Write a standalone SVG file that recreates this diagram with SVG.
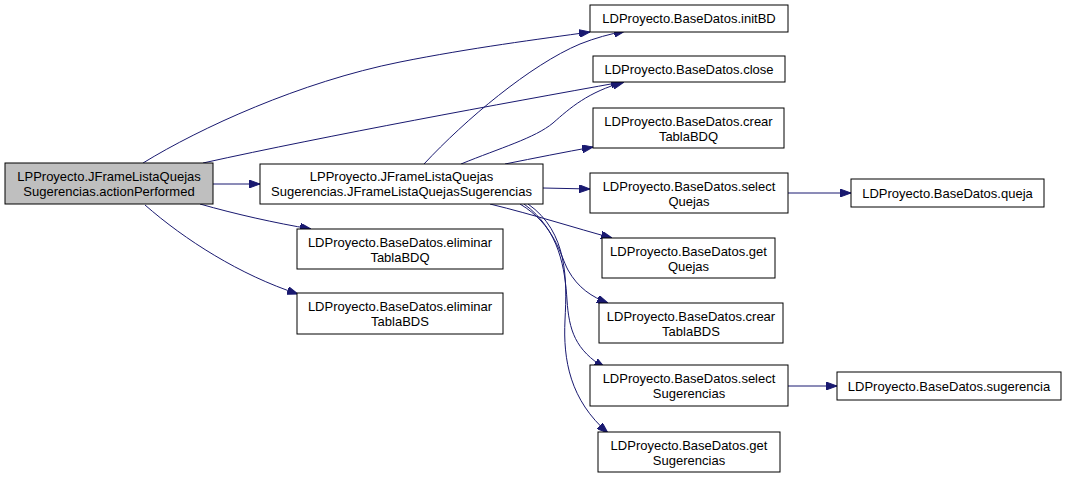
<svg xmlns="http://www.w3.org/2000/svg" width="1067" height="481" viewBox="0 0 1067 481">
<style>
.n rect{fill:#ffffff;stroke:#000000;stroke-width:1}
.n.root rect{fill:#bfbfbf}
.n text{font-family:"Liberation Sans",Arial,sans-serif;font-size:13px;fill:#000000;text-anchor:middle}
.e path{fill:none;stroke:#191970;stroke-width:1}
</style>
<defs>
<marker id="ah" viewBox="0 0 11 8" refX="11" refY="4" markerWidth="11" markerHeight="8" markerUnits="userSpaceOnUse" orient="auto">
<path d="M0,0 L11,4 L0,8 z" fill="#191970" stroke="#191970"/>
</marker>
</defs>
<rect width="1067" height="481" fill="#ffffff"/>
<g class="e" id="edges">
<path marker-end="url(#ah)" d="M213,184 L260,184"/>
<path marker-end="url(#ah)" d="M143,163 C200,128 300,82 400,62 C470,48 540,39 590,32"/>
<path marker-end="url(#ah)" d="M203,163 C330,135 500,104 622,82"/>
<path marker-end="url(#ah)" d="M200,204 C235,214 275,223 311,229"/>
<path marker-end="url(#ah)" d="M145,205 C185,240 240,275 298,294"/>
<path marker-end="url(#ah)" d="M424,164 C465,120 530,65 580,44 C595,38 610,34 625,31"/>
<path marker-end="url(#ah)" d="M461,164 C500,148 535,138 553,123 C570,108 588,92 624,82"/>
<path marker-end="url(#ah)" d="M505,164 C535,158 565,152 593,147"/>
<path marker-end="url(#ah)" d="M543,188 L590,189"/>
<path marker-end="url(#ah)" d="M490,204 C535,215 575,228 612,238"/>
<path marker-end="url(#ah)" d="M520,204 C555,225 560,255 568,270 C578,288 592,297 608,303"/>
<path marker-end="url(#ah)" d="M524,204 C560,230 565,270 567,300 C569,330 575,350 605,368"/>
<path marker-end="url(#ah)" d="M528,204 C568,232 567,280 565,320 C563,360 570,400 608,433"/>
<path marker-end="url(#ah)" d="M788,193 L851,193"/>
<path marker-end="url(#ah)" d="M788,386 L837,386"/>
</g>
<g class="n root" id="node-actionPerformed">
<rect x="5" y="163" width="208" height="41"/>
<text x="109" y="181">LPProyecto.JFrameListaQuejas</text>
<text x="109" y="196">Sugerencias.actionPerformed</text>
</g>
<g class="n" id="node-constructor">
<rect x="260" y="164" width="283" height="40"/>
<text x="401.5" y="181">LPProyecto.JFrameListaQuejas</text>
<text x="401.5" y="196">Sugerencias.JFrameListaQuejasSugerencias</text>
</g>
<g class="n" id="node-initBD">
<rect x="590" y="5" width="198" height="27"/>
<text x="689" y="23">LDProyecto.BaseDatos.initBD</text>
</g>
<g class="n" id="node-close">
<rect x="593" y="56" width="192" height="26"/>
<text x="689" y="73.5">LDProyecto.BaseDatos.close</text>
</g>
<g class="n" id="node-crearTablaBDQ">
<rect x="593" y="108" width="191" height="40"/>
<text x="688.5" y="125.5">LDProyecto.BaseDatos.crear</text>
<text x="688.5" y="140.5">TablaBDQ</text>
</g>
<g class="n" id="node-selectQuejas">
<rect x="590" y="173" width="198" height="40"/>
<text x="689" y="190.5">LDProyecto.BaseDatos.select</text>
<text x="689" y="205.5">Quejas</text>
</g>
<g class="n" id="node-getQuejas">
<rect x="602" y="238" width="173" height="40"/>
<text x="688.5" y="255.5">LDProyecto.BaseDatos.get</text>
<text x="688.5" y="270.5">Quejas</text>
</g>
<g class="n" id="node-crearTablaBDS">
<rect x="599" y="303" width="184" height="40"/>
<text x="691" y="320.5">LDProyecto.BaseDatos.crear</text>
<text x="691" y="335.5">TablaBDS</text>
</g>
<g class="n" id="node-selectSugerencias">
<rect x="590" y="365" width="198" height="41"/>
<text x="689" y="383">LDProyecto.BaseDatos.select</text>
<text x="689" y="398">Sugerencias</text>
</g>
<g class="n" id="node-getSugerencias">
<rect x="598" y="432" width="182" height="40"/>
<text x="689" y="449.5">LDProyecto.BaseDatos.get</text>
<text x="689" y="464.5">Sugerencias</text>
</g>
<g class="n" id="node-queja">
<rect x="851" y="179" width="193" height="28"/>
<text x="947.5" y="197.5">LDProyecto.BaseDatos.queja</text>
</g>
<g class="n" id="node-sugerencia">
<rect x="837" y="372" width="224" height="28"/>
<text x="949" y="390.5">LDProyecto.BaseDatos.sugerencia</text>
</g>
<g class="n" id="node-eliminarTablaBDQ">
<rect x="297" y="229" width="206" height="40"/>
<text x="400" y="246.5">LDProyecto.BaseDatos.eliminar</text>
<text x="400" y="261.5">TablaBDQ</text>
</g>
<g class="n" id="node-eliminarTablaBDS">
<rect x="297" y="293" width="206" height="41"/>
<text x="400" y="311">LDProyecto.BaseDatos.eliminar</text>
<text x="400" y="326">TablaBDS</text>
</g>
</svg>
